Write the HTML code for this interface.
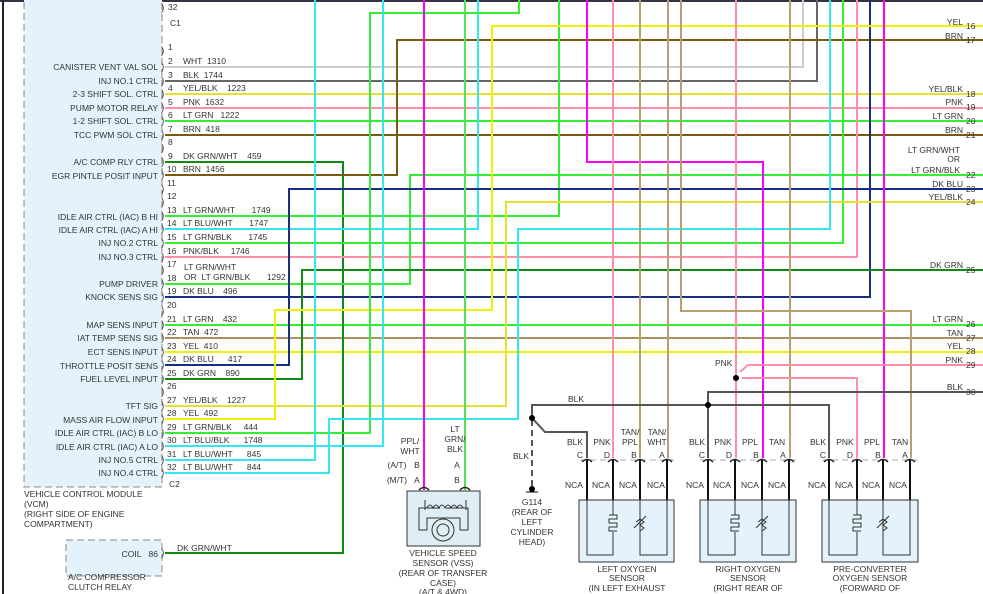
<!DOCTYPE html>
<html><head><meta charset="utf-8"><style>
html,body{margin:0;padding:0;background:#fff;}
svg{display:block;font-family:"Liberation Sans",sans-serif;}
text{font-size:8.5px;fill:#333;}
.r{text-anchor:end}
.m{text-anchor:middle}
.pm text{font-size:10px;fill:#444}
</style></head><body>
<svg width="983" height="594" viewBox="0 0 983 594" xmlns="http://www.w3.org/2000/svg">
<rect width="983" height="594" fill="#fff"/>
<line x1="0" y1="1" x2="983" y2="1" stroke="#334" stroke-width="2"/>
<line x1="3" y1="0" x2="3" y2="594" stroke="#222" stroke-width="2"/>
<rect x="24" y="-2" width="138" height="489" fill="#e4f3fb" stroke="#888" stroke-dasharray="7,4"/>
<rect x="66" y="540" width="96" height="36" fill="#e4f3fb" stroke="#888" stroke-dasharray="7,4"/>
<g fill="none" stroke-width="2">
<polyline points="165,94 983,94" stroke="#e8e030"/>
<polyline points="165,108 983,108" stroke="#ff8fa8"/>
<polyline points="165,121 983,121" stroke="#33ee33"/>
<polyline points="165,135 983,135" stroke="#7a5a10"/>
<polyline points="165,325 983,325" stroke="#33ee33"/>
<polyline points="165,338 983,338" stroke="#a89060"/>
<polyline points="165,352 983,352" stroke="#f0f000"/>
<polyline points="165,67 803,67 803,0" stroke="#ccc"/>
<polyline points="165,81 817,81 817,0" stroke="#666"/>
<polyline points="165,162 343,162 343,553 165,553" stroke="#108a10"/>
<polyline points="165,175 397,175 397,40 983,40" stroke="#7a5a10"/>
<polyline points="165,216 559,216 559,0" stroke="#33ee33"/>
<polyline points="165,229 478,229 478,0" stroke="#33e6f0"/>
<polyline points="165,243 843,243 843,0" stroke="#33ee33"/>
<polyline points="165,257 857,257 857,0" stroke="#ff8fa8"/>
<polyline points="165,284 410,284 410,175 983,175" stroke="#33ee33"/>
<polyline points="165,297 870,297 870,0" stroke="#1a2e80"/>
<polyline points="165,365 289,365 289,189 983,189" stroke="#1a2e80"/>
<polyline points="165,379 302,379 302,270 983,270" stroke="#108a10"/>
<polyline points="165,406 506,406 506,202 983,202" stroke="#e8e030"/>
<polyline points="165,419 275,419 275,310 492,310 492,26 983,26" stroke="#f0f000"/>
<polyline points="165,433 370,433 370,13 519,13 519,0" stroke="#33ee33"/>
<polyline points="165,446 383,446 383,0" stroke="#33e6f0"/>
<polyline points="165,460 315,460 315,0" stroke="#33e6f0"/>
<polyline points="165,473 329,473 329,419 518,419 518,229 830,229 830,0" stroke="#33e6f0"/>
<polyline points="424,0 424,490" stroke="#ff00ff"/>
<polyline points="465,0 465,490" stroke="#55e055"/>
<polyline points="587,0 587,162 763,162 763,458" stroke="#ff00ff"/>
<polyline points="884,0 884,458" stroke="#ff00ff"/>
<polyline points="613,0 613,458" stroke="#ff8fa8"/>
<polyline points="640,0 640,458" stroke="#b8a070"/>
<polyline points="668,0 668,458" stroke="#b8a070"/>
<polyline points="736,0 736,458" stroke="#ff8fa8"/>
<polyline points="790,0 790,458" stroke="#b8a070"/>
<polyline points="681,0 681,311 911,311 911,458" stroke="#b8a070"/>
<polyline points="742,378 857,378 857,458" stroke="#ff8fa8"/>
<polyline points="740,372 748,365 983,365" stroke="#ff8fa8"/>
</g>
<g fill="none" stroke="#555" stroke-width="2">
<polyline points="708,405 708,392 983,392"/>
<polyline points="532,418 532,405 829,405 829,458"/>
<polyline points="708,405 708,458"/>
<polyline points="532,418 545,432 587,432 587,458"/>
<line x1="532" y1="420" x2="532" y2="488" stroke-dasharray="6,4"/>
</g>
<circle cx="532" cy="418" r="3" fill="#000"/>
<circle cx="708" cy="405" r="3" fill="#000"/>
<circle cx="736" cy="378" r="3" fill="#000"/>
<circle cx="532" cy="489" r="3" fill="#000"/>
<line x1="526" y1="492" x2="538" y2="492" stroke="#000"/>
<g stroke="#aaa" stroke-dasharray="6,4"><line x1="580" y1="460" x2="674" y2="460"/><line x1="700" y1="460" x2="796" y2="460"/><line x1="822" y1="460" x2="918" y2="460"/></g>
<g fill="none" stroke="#222" stroke-width="1.5">
<path d="M582,462 q5,-5 10,0 M608,462 q5,-5 10,0 M635,462 q5,-5 10,0 M662,462 q5,-5 10,0"/>
<path d="M703,462 q5,-5 10,0 M730,462 q5,-5 10,0 M757,462 q5,-5 10,0 M784,462 q5,-5 10,0"/>
<path d="M824,462 q5,-5 10,0 M852,462 q5,-5 10,0 M878,462 q5,-5 10,0 M905,462 q5,-5 10,0"/>
<path d="M419,490 q5,-5 10,0 M460,490 q5,-5 10,0"/>
</g>
<g stroke="#111" stroke-width="2" fill="none">
<path d="M587,460 V500 M613,460 V500 M640,460 V500 M667,460 V500"/>
<path d="M708,460 V500 M735,460 V500 M762,460 V500 M789,460 V500"/>
<path d="M829,460 V500 M857,460 V500 M883,460 V500 M910,460 V500"/>
</g>
<g fill="#e4f3fb" stroke="#333">
<rect x="579" y="500" width="95" height="62"/>
<rect x="700" y="500" width="96" height="62"/>
<rect x="822" y="500" width="96" height="62"/>
<rect x="407" y="491" width="73" height="55" fill="#dfeef5"/>
</g>
<g fill="none" stroke="#333">
<path d="M587,500 V555 H613 V532 M613,500 V515 M609,515 h8 v4 h-8 v4 h8 v4 h-8 v4 h8 M640,500 V555 H667 V500 M636,522 l4,-3 l4,3 l-4,3 l4,3 l-4,3 M634,528 l12,-12"/>
<path d="M708,500 V555 H735 V532 M735,500 V515 M731,515 h8 v4 h-8 v4 h8 v4 h-8 v4 h8 M762,500 V555 H789 V500 M758,522 l4,-3 l4,3 l-4,3 l4,3 l-4,3 M756,528 l12,-12"/>
<path d="M829,500 V555 H857 V532 M857,500 V515 M853,515 h8 v4 h-8 v4 h8 v4 h-8 v4 h8 M883,500 V555 H910 V500 M879,522 l4,-3 l4,3 l-4,3 l4,3 l-4,3 M877,528 l12,-12"/>
<path d="M440,508 H419 V530 H427 V518 H460 V530 H468 V508 H446 M425,500 V510 M466,500 V510 M427,508 q3,-6 6,0 q3,-6 6,0 q3,-6 6,0 q3,-6 6,0 q3,-6 6,0 q3,-6 6,0"/>
<circle cx="443" cy="530" r="11"/><circle cx="443" cy="530" r="6"/>
</g>
<g class="r">
<text x="158" y="70">CANISTER VENT VAL SOL</text>
<text x="158" y="84">INJ NO.1 CTRL</text>
<text x="158" y="97">2-3 SHIFT SOL. CTRL</text>
<text x="158" y="111">PUMP MOTOR RELAY</text>
<text x="158" y="124">1-2 SHIFT SOL. CTRL</text>
<text x="158" y="138">TCC PWM SOL CTRL</text>
<text x="158" y="165">A/C COMP RLY CTRL</text>
<text x="158" y="179">EGR PINTLE POSIT INPUT</text>
<text x="158" y="220">IDLE AIR CTRL (IAC) B HI</text>
<text x="158" y="233">IDLE AIR CTRL (IAC) A HI</text>
<text x="158" y="246">INJ NO.2 CTRL</text>
<text x="158" y="260">INJ NO.3 CTRL</text>
<text x="158" y="287">PUMP DRIVER</text>
<text x="158" y="300">KNOCK SENS SIG</text>
<text x="158" y="328">MAP SENS INPUT</text>
<text x="158" y="341">IAT TEMP SENS SIG</text>
<text x="158" y="355">ECT SENS INPUT</text>
<text x="158" y="369">THROTTLE POSIT SENS</text>
<text x="158" y="382">FUEL LEVEL INPUT</text>
<text x="158" y="409">TFT SIG</text>
<text x="158" y="423">MASS AIR FLOW INPUT</text>
<text x="158" y="436">IDLE AIR CTRL (IAC) B LO</text>
<text x="158" y="450">IDLE AIR CTRL (IAC) A LO</text>
<text x="158" y="463">INJ NO.5 CTRL</text>
<text x="158" y="476">INJ NO.4 CTRL</text>
<text x="158" y="557">COIL&#160;&#160;&#160;86</text>
</g>
<g class="pm">
<text x="161" y="11">)</text><text x="161" y="54">)</text><text x="161" y="70">)</text><text x="161" y="84">)</text><text x="161" y="97">)</text><text x="161" y="111">)</text><text x="161" y="124">)</text><text x="161" y="138">)</text><text x="161" y="151">)</text><text x="161" y="165">)</text><text x="161" y="178">)</text><text x="161" y="192">)</text><text x="161" y="205">)</text><text x="161" y="219">)</text><text x="161" y="232">)</text><text x="161" y="246">)</text><text x="161" y="260">)</text><text x="161" y="273">)</text><text x="161" y="287">)</text><text x="161" y="300">)</text><text x="161" y="314">)</text><text x="161" y="328">)</text><text x="161" y="341">)</text><text x="161" y="355">)</text><text x="161" y="368">)</text><text x="161" y="382">)</text><text x="161" y="395">)</text><text x="161" y="409">)</text><text x="161" y="422">)</text><text x="161" y="436">)</text><text x="161" y="449">)</text><text x="161" y="463">)</text><text x="161" y="476">)</text><text x="161" y="556">)</text>
</g>
<g>
<text x="168" y="10">32</text><text x="170" y="26" fill="#55a">C1</text><text x="168" y="50">1</text>
<text x="168" y="64">2</text><text x="183" y="64">WHT&#160;&#160;1310</text>
<text x="168" y="78">3</text><text x="183" y="78">BLK&#160;&#160;1744</text>
<text x="168" y="91">4</text><text x="183" y="91">YEL/BLK&#160;&#160;&#160;&#160;1223</text>
<text x="168" y="105">5</text><text x="183" y="105">PNK&#160;&#160;1632</text>
<text x="168" y="118">6</text><text x="183" y="118">LT GRN&#160;&#160;&#160;1222</text>
<text x="168" y="132">7</text><text x="183" y="132">BRN&#160;&#160;418</text>
<text x="168" y="145">8</text>
<text x="168" y="159">9</text><text x="183" y="159">DK GRN/WHT&#160;&#160;&#160;&#160;459</text>
<text x="167" y="172">10</text><text x="183" y="172">BRN&#160;&#160;1456</text>
<text x="167" y="186">11</text><text x="167" y="199">12</text>
<text x="167" y="213">13</text><text x="183" y="213">LT GRN/WHT&#160;&#160;&#160;&#160;&#160;&#160;&#160;1749</text>
<text x="167" y="226">14</text><text x="183" y="226">LT BLU/WHT&#160;&#160;&#160;&#160;&#160;&#160;&#160;1747</text>
<text x="167" y="240">15</text><text x="183" y="240">LT GRN/BLK&#160;&#160;&#160;&#160;&#160;&#160;&#160;1745</text>
<text x="167" y="254">16</text><text x="183" y="254">PNK/BLK&#160;&#160;&#160;&#160;&#160;1746</text>
<text x="167" y="267">17</text><text x="184" y="270">LT GRN/WHT</text>
<text x="167" y="281">18</text><text x="184" y="280">OR&#160;&#160;LT GRN/BLK&#160;&#160;&#160;&#160;&#160;&#160;&#160;1292</text>
<text x="167" y="294">19</text><text x="183" y="294">DK BLU&#160;&#160;&#160;&#160;496</text>
<text x="167" y="308">20</text>
<text x="167" y="322">21</text><text x="183" y="322">LT GRN&#160;&#160;&#160;&#160;432</text>
<text x="167" y="335">22</text><text x="183" y="335">TAN&#160;&#160;472</text>
<text x="167" y="349">23</text><text x="183" y="349">YEL&#160;&#160;410</text>
<text x="167" y="362">24</text><text x="183" y="362">DK BLU&#160;&#160;&#160;&#160;&#160;&#160;417</text>
<text x="167" y="376">25</text><text x="183" y="376">DK GRN&#160;&#160;&#160;&#160;890</text>
<text x="167" y="389">26</text>
<text x="167" y="403">27</text><text x="183" y="403">YEL/BLK&#160;&#160;&#160;&#160;1227</text>
<text x="167" y="416">28</text><text x="183" y="416">YEL&#160;&#160;492</text>
<text x="167" y="430">29</text><text x="183" y="430">LT GRN/BLK&#160;&#160;&#160;&#160;&#160;444</text>
<text x="167" y="443">30</text><text x="183" y="443">LT BLU/BLK&#160;&#160;&#160;&#160;&#160;&#160;1748</text>
<text x="167" y="457">31</text><text x="183" y="457">LT BLU/WHT&#160;&#160;&#160;&#160;&#160;&#160;845</text>
<text x="167" y="470">32</text><text x="183" y="470">LT BLU/WHT&#160;&#160;&#160;&#160;&#160;&#160;844</text>
<text x="169" y="487">C2</text>
<text x="177" y="551">DK GRN/WHT</text>
<text x="24" y="497">VEHICLE CONTROL MODULE</text>
<text x="24" y="507">(VCM)</text>
<text x="24" y="517">(RIGHT SIDE OF ENGINE</text>
<text x="24" y="527">COMPARTMENT)</text>
<text x="68" y="580">A/C COMPRESSOR</text>
<text x="68" y="590">CLUTCH RELAY</text>
</g>
<g class="r">
<text x="963" y="25">YEL</text><text x="963" y="39">BRN</text>
<text x="963" y="92">YEL/BLK</text><text x="963" y="105">PNK</text><text x="963" y="119">LT GRN</text><text x="963" y="133">BRN</text>
<text x="960" y="153">LT GRN/WHT</text><text x="960" y="162">OR</text><text x="960" y="173">LT GRN/BLK</text>
<text x="963" y="187">DK BLU</text><text x="963" y="200">YEL/BLK</text><text x="963" y="268">DK GRN</text>
<text x="963" y="322">LT GRN</text><text x="963" y="336">TAN</text><text x="963" y="349">YEL</text><text x="963" y="363">PNK</text><text x="963" y="390">BLK</text>
</g>
<g>
<text x="966" y="29">16</text><text x="966" y="43">17</text><text x="966" y="97">18</text><text x="966" y="110">19</text><text x="966" y="124">20</text><text x="966" y="138">21</text>
<text x="966" y="178">22</text><text x="966" y="192">23</text><text x="966" y="205">24</text><text x="966" y="273">25</text>
<text x="966" y="327">26</text><text x="966" y="341">27</text><text x="966" y="354">28</text><text x="966" y="368">29</text><text x="966" y="395">30</text>
<text x="715" y="366">PNK</text><text x="568" y="402">BLK</text><text x="513" y="459">BLK</text>
</g>
<g class="m">
<text x="575" y="445">BLK</text><text x="602" y="445">PNK</text><text x="630" y="435">TAN/</text><text x="630" y="445">PPL</text><text x="657" y="435">TAN/</text><text x="657" y="445">WHT</text>
<text x="697" y="445">BLK</text><text x="723" y="445">PNK</text><text x="750" y="445">PPL</text><text x="777" y="445">TAN</text>
<text x="818" y="445">BLK</text><text x="845" y="445">PNK</text><text x="872" y="445">PPL</text><text x="900" y="445">TAN</text>
<text x="580" y="458">C</text><text x="607" y="458">D</text><text x="634" y="458">B</text><text x="662" y="458">A</text>
<text x="702" y="458">C</text><text x="729" y="458">D</text><text x="756" y="458">B</text><text x="783" y="458">A</text>
<text x="823" y="458">C</text><text x="850" y="458">D</text><text x="878" y="458">B</text><text x="905" y="458">A</text>
<text x="574" y="488">NCA</text><text x="601" y="488">NCA</text><text x="628" y="488">NCA</text><text x="656" y="488">NCA</text>
<text x="695" y="488">NCA</text><text x="722" y="488">NCA</text><text x="750" y="488">NCA</text><text x="777" y="488">NCA</text>
<text x="817" y="488">NCA</text><text x="844" y="488">NCA</text><text x="871" y="488">NCA</text><text x="898" y="488">NCA</text>
<text x="627" y="572">LEFT OXYGEN</text><text x="627" y="581">SENSOR</text><text x="627" y="591">(IN LEFT EXHAUST</text>
<text x="748" y="572">RIGHT OXYGEN</text><text x="748" y="581">SENSOR</text><text x="748" y="591">(RIGHT REAR OF</text>
<text x="870" y="572">PRE-CONVERTER</text><text x="870" y="581">OXYGEN SENSOR</text><text x="870" y="591">(FORWARD OF</text>
<text x="532" y="505">G114</text><text x="532" y="515">(REAR OF</text><text x="532" y="525">LEFT</text><text x="532" y="535">CYLINDER</text><text x="532" y="545">HEAD)</text>
<text x="443" y="556">VEHICLE SPEED</text><text x="443" y="566">SENSOR (VSS)</text><text x="443" y="576">(REAR OF TRANSFER</text><text x="443" y="586">CASE)</text><text x="443" y="595">(A/T &amp; 4WD)</text>
<text x="410" y="444">PPL/</text><text x="410" y="454">WHT</text>
<text x="455" y="432">LT</text><text x="455" y="442">GRN/</text><text x="455" y="452">BLK</text>
<text x="397" y="468">(A/T)</text><text x="417" y="468">B</text><text x="457" y="468">A</text>
<text x="397" y="483">(M/T)</text><text x="417" y="483">A</text><text x="457" y="483">B</text>
</g>
</svg>
</body></html>
